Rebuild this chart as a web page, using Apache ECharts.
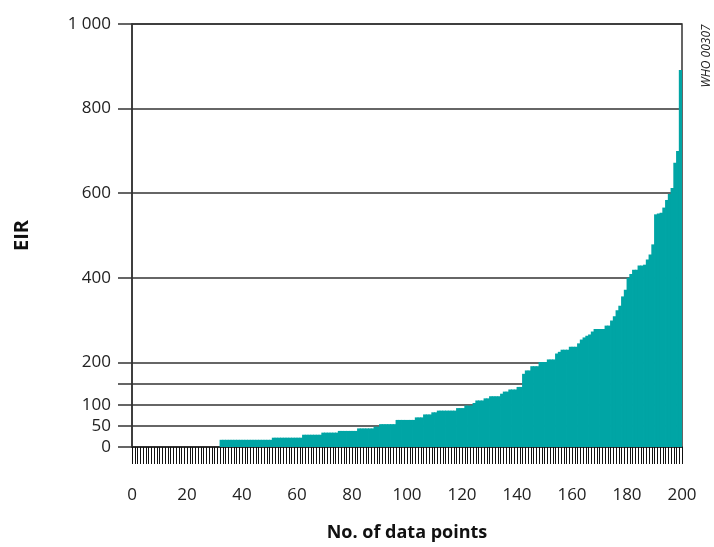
<!DOCTYPE html>
<html>
<head>
<meta charset="utf-8">
<script src="https://cdn.jsdelivr.net/npm/echarts@6/dist/echarts.min.js"></script>
<style>html,body{margin:0;padding:0;background:#fff}#c{width:714px;height:547px}</style>
</head>
<body>
<div id="c"></div>
<script>
// Data point numbers (x categories)
const dataPoints = Array.from({length: 200}, (_, i) => String(i + 1));

// EIR value of each data point, sorted ascending
const eirValues = [
  0,0,0,0,0,0,0,0,0,0,
  0,0,0,0,0,0,0,0,0,0,
  0,0,0,0,0,0,0,0,0,0,
  0,0,17,17,17,17,17,17,17,17,
  17,17,17,17,17,17,17,17,17,17,
  17,22,22,22,22,22,22,22,22,22,
  22,22,29,29,29,29,29,29,29,34,
  34,34,34,34,34,38,38,38,38,38,
  38,38,44,44,44,44,44,44,48,48,
  54,54,54,54,54,54,64,64,64,64,
  64,64,64,70,70,70,77,77,77,82,
  82,86,86,86,86,86,86,86,92,92,
  92,98,98,98,104,110,110,110,115,115,
  120,120,120,120,126,131,131,136,136,136,
  142,142,173,181,181,191,191,191,201,201,
  201,207,207,207,221,225,230,230,230,237,
  237,237,245,254,259,263,266,273,279,279,
  279,279,287,287,299,309,323,334,356,372,
  400,409,419,419,429,429,431,443,455,479,
  550,552,554,566,584,598,612,672,700,891
];

// Y axis ticks, labels and horizontal rules
const yTickValues = [0, 50, 100, 150, 200, 400, 600, 800, 1000];
const yLabelValues = [0, 50, 100, 200, 400, 600, 800, 1000];
const yLabelTexts = ['0', '50', '100', '200', '400', '600', '800', '1 000'];
const ruleValues = [50, 100, 150, 200, 400, 600, 800, 1000];

// X axis tick labels
const xLabelMin = 0, xLabelMax = 200, xLabelStep = 20;

const FONT = '"Open Sans", "DejaVu Sans", sans-serif';
const TEAL = '#00a5a5';
const chart = echarts.init(document.getElementById('c'), null, {renderer: 'canvas'});

chart.setOption({
  animation: false,
  backgroundColor: '#fff',
  grid: {left: 132, right: 32, top: 24, bottom: 99.5, show: true, borderColor: '#333', borderWidth: 1.5},
  xAxis: [
    {
      type: 'category', data: dataPoints, boundaryGap: true,
      axisLine: {show: true, lineStyle: {color: '#222', width: 1.5}},
      axisTick: {show: true, interval: 0, length: 17, lineStyle: {color: '#111', width: 1}},
      axisLabel: {show: false},
      splitLine: {show: false}
    },
    {
      type: 'value', position: 'bottom', min: xLabelMin, max: xLabelMax, interval: xLabelStep,
      axisLine: {show: false}, axisTick: {show: false}, splitLine: {show: false},
      axisLabel: {margin: 40, fontSize: 17, color: '#222', fontFamily: FONT},
      name: 'No. of data points', nameLocation: 'middle', nameGap: 77,
      nameTextStyle: {fontSize: 18, fontWeight: 'bold', color: '#111', fontFamily: FONT}
    }
  ],
  yAxis: {
    type: 'value', min: 0, max: 1000,
    axisLine: {show: true, lineStyle: {color: '#333', width: 1.5}},
    axisTick: {show: true, length: 14, customValues: yTickValues, lineStyle: {color: '#333', width: 1.5}},
    axisLabel: {
      customValues: yLabelValues, margin: 21, fontSize: 17, color: '#222', fontFamily: FONT,
      formatter: v => yLabelTexts[yLabelValues.indexOf(v)]
    },
    splitLine: {show: false},
    name: 'EIR', nameLocation: 'middle', nameGap: 100,
    nameTextStyle: {fontSize: 20, fontWeight: 'bold', color: '#111', fontFamily: FONT}
  },
  series: [{
    type: 'bar', xAxisIndex: 0, data: eirValues,
    barWidth: 3.6, barGap: '-100%',
    itemStyle: {color: TEAL},
    z: 3,
    markLine: {
      silent: true, z: 1, symbol: ['none', 'none'], label: {show: false},
      lineStyle: {color: '#333', type: 'solid', width: 1.5},
      data: ruleValues.map(v => ({yAxis: v}))
    }
  }],
  graphic: [{
    type: 'text', x: 707, y: 56, rotation: Math.PI / 2,
    style: {text: 'WHO 00307', fontSize: 12, fontStyle: 'italic', fill: '#222', fontFamily: FONT,
            textAlign: 'center', textVerticalAlign: 'middle'}
  }]
});
</script>
</body>
</html>
